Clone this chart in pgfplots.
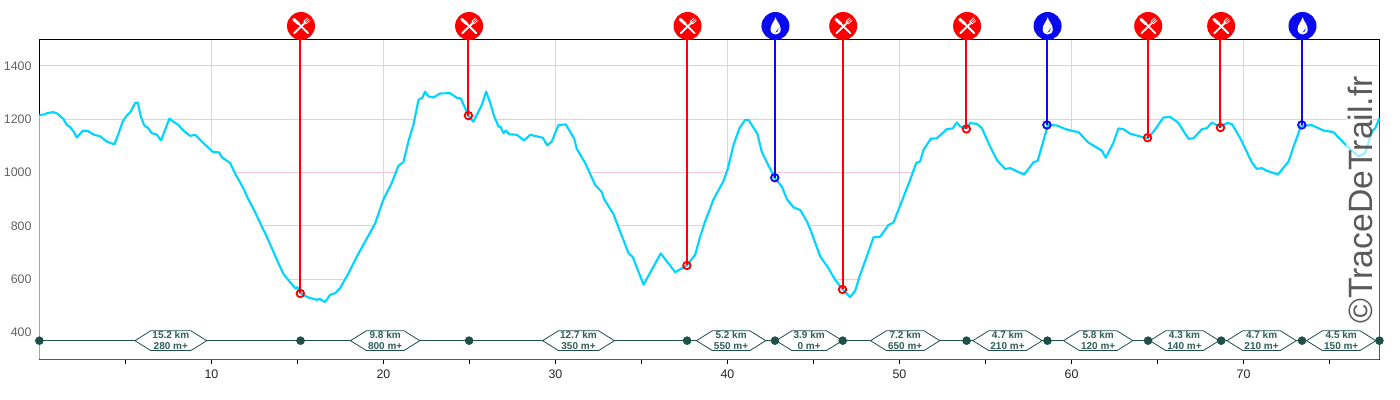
\documentclass[border=0pt]{standalone}
\usepackage{pgfplots}
\pgfplotsset{compat=1.18}
\usepackage{fontspec}
\setmainfont{Liberation Sans}
\usetikzlibrary{shapes.symbols}
\definecolor{prof}{HTML}{00D5FF}
\definecolor{seg}{HTML}{1F4F4A}
\definecolor{segt}{HTML}{2F5F5A}
\definecolor{pinkg}{HTML}{F7C5DA}
\definecolor{grayg}{HTML}{D8D8D8}
\definecolor{rd}{HTML}{FF0000}
\definecolor{bl}{HTML}{0A0AF0}
\pgfdeclareplotmark{food}{%
  \pgfsetfillcolor{rd}\pgfsetstrokecolor{rd}%
  \pgfpathcircle{\pgfpoint{0.5pt}{0pt}}{10.5pt}\pgfusepathqfill
  \pgfsetstrokecolor{white}\pgfsetfillcolor{white}%
  \pgfsetroundcap
  % knife
  \pgfsetlinewidth{2.2pt}%
  \pgfpathmoveto{\pgfpoint{-5.0pt}{5.0pt}}\pgfpathlineto{\pgfpoint{-1.2pt}{1.6pt}}\pgfusepathqstroke
  \pgfsetlinewidth{1.4pt}%
  \pgfpathmoveto{\pgfpoint{-1.2pt}{1.6pt}}\pgfpathlineto{\pgfpoint{5.8pt}{-5.4pt}}\pgfusepathqstroke
  % fork handle
  \pgfsetlinewidth{1.4pt}%
  \pgfpathmoveto{\pgfpoint{-4.6pt}{-5.4pt}}\pgfpathlineto{\pgfpoint{3.4pt}{2.4pt}}\pgfusepathqstroke
  % fork head
  \pgfsetlinewidth{0.8pt}%
  \pgfpathmoveto{\pgfpoint{2.7pt}{3.6pt}}\pgfpathlineto{\pgfpoint{4.4pt}{1.7pt}}\pgfusepathqstroke
  \pgfsetlinewidth{0.55pt}%
  \pgfpathmoveto{\pgfpoint{2.7pt}{3.6pt}}\pgfpathlineto{\pgfpoint{5.4pt}{6.0pt}}\pgfusepathqstroke
  \pgfpathmoveto{\pgfpoint{3.6pt}{2.6pt}}\pgfpathlineto{\pgfpoint{6.3pt}{5.0pt}}\pgfusepathqstroke
  \pgfpathmoveto{\pgfpoint{4.4pt}{1.7pt}}\pgfpathlineto{\pgfpoint{7.1pt}{4.0pt}}\pgfusepathqstroke
}
\pgfdeclareplotmark{water}{%
  \pgfsetfillcolor{bl}%
  \pgfpathcircle{\pgfpoint{0.5pt}{0pt}}{10.5pt}\pgfusepathqfill
  \pgfsetfillcolor{white}%
  \pgfpathmoveto{\pgfpoint{0.6pt}{6.6pt}}%
  \pgfpathcurveto{\pgfpoint{1.2pt}{3.6pt}}{\pgfpoint{4.4pt}{1.2pt}}{\pgfpoint{4.4pt}{-2.4pt}}%
  \pgfpathcurveto{\pgfpoint{4.4pt}{-5.0pt}}{\pgfpoint{2.6pt}{-6.4pt}}{\pgfpoint{0.6pt}{-6.4pt}}%
  \pgfpathcurveto{\pgfpoint{-1.4pt}{-6.4pt}}{\pgfpoint{-3.2pt}{-5.0pt}}{\pgfpoint{-3.2pt}{-2.4pt}}%
  \pgfpathcurveto{\pgfpoint{-3.2pt}{1.2pt}}{\pgfpoint{0pt}{3.6pt}}{\pgfpoint{0.6pt}{6.6pt}}%
  \pgfpathclose\pgfusepathqfill
  \pgfsetfillcolor{bl}%
  \pgfpathmoveto{\pgfpoint{2.9pt}{-1.6pt}}%
  \pgfpathcurveto{\pgfpoint{2.9pt}{-3.6pt}}{\pgfpoint{1.8pt}{-4.8pt}}{\pgfpoint{0.4pt}{-4.9pt}}%
  \pgfpathcurveto{\pgfpoint{1.4pt}{-4.0pt}}{\pgfpoint{2.0pt}{-3.0pt}}{\pgfpoint{2.9pt}{-1.6pt}}%
  \pgfpathclose\pgfusepathqfill
}
\pgfplotstableread{
km ele
0 1216
.33 1219
.43 1223
.81 1227
1.05 1221
1.4 1201
1.59 1179
1.78 1171
2.02 1152
2.17 1132
2.52 1157
2.79 1157
3.14 1143
3.53 1136
3.91 1117
4.36 1106
4.61 1148
4.84 1192
5.08 1214
5.31 1229
5.56 1261
5.72 1263
5.89 1211
6.09 1178
6.34 1166
6.53 1148
6.82 1143
7.07 1121
7.31 1161
7.56 1203
7.79 1191
8.08 1179
8.37 1158
8.76 1138
9.05 1142
9.53 1111
10.08 1078
10.45 1076
10.6 1058
11.09 1036
11.38 996
11.82 946
12.15 900
12.48 860
12.93 798
13.22 760
13.6 704
13.9 660
14.19 620
14.54 592
14.87 567
15.02 570
15.16 548
15.64 532
16.13 523
16.28 527
16.61 515
16.9 542
17.19 548
17.48 567
18.02 629
18.45 685
18.94 742
19.52 810
20.0 900
20.48 961
20.87 1026
21.16 1039
21.45 1117
21.74 1179
22.04 1273
22.27 1282
22.42 1304
22.62 1286
22.91 1282
23.3 1297
23.88 1298
24.26 1281
24.5 1278
24.94 1214
25.23 1191
25.43 1217
25.72 1254
25.97 1304
26.2 1263
26.44 1211
26.69 1173
26.82 1171
26.98 1148
27.11 1158
27.33 1144
27.75 1142
28.18 1121
28.53 1142
29.26 1131
29.53 1102
29.79 1117
30.17 1178
30.6 1181
31.08 1129
31.24 1089
31.73 1036
32.31 954
32.7 927
32.83 900
33.37 845
33.76 779
34.25 698
34.5 683
35.12 580
36.12 697
36.96 627
37.64 652
38.12 692
38.41 760
38.7 817
39.19 900
39.77 969
40.0 1011
40.35 1104
40.7 1167
41.03 1198
41.22 1198
41.74 1146
41.99 1079
42.38 1027
42.75 980
43.16 948
43.46 900
43.84 870
44.23 860
44.62 817
44.9 773
45.39 686
45.87 642
46.26 598
46.69 563
47.13 533
47.43 558
47.71 617
48.1 686
48.49 758
48.88 760
49.36 804
49.65 813
50.18 900
50.62 973
50.97 1036
51.2 1042
51.4 1086
51.82 1127
52.17 1129
52.75 1163
53.1 1166
53.33 1188
53.53 1173
53.87 1166
54.11 1186
54.5 1183
54.79 1167
55.27 1098
55.67 1046
56.14 1014
56.44 1017
56.72 1008
57.25 993
57.79 1039
58.03 1044
58.38 1123
58.63 1179
59.15 1177
59.63 1164
60.02 1157
60.41 1152
60.98 1113
61.76 1083
61.99 1056
62.44 1113
62.73 1166
63.02 1163
63.41 1146
64.09 1134
64.42 1129
64.77 1154
65.35 1207
65.74 1209
66.22 1186
66.8 1127
67.09 1129
67.58 1163
67.87 1167
68.16 1188
68.65 1171
69.03 1186
69.32 1183
69.81 1129
70.48 1039
70.77 1014
71.07 1017
71.36 1007
72.0 993
72.62 1042
72.91 1098
73.35 1176
73.97 1178
74.65 1158
75.23 1152
75.81 1113
76.68 1061
77.07 1073
77.46 1154
77.66 1167
77.9 1204
}\profile
\pgfplotstableread{
km ele
15.17 547
37.64 652
46.69 562
53.89 1164
64.42 1131
68.66 1169
24.94 1214
}\foodpts
\pgfplotstableread{
km ele
42.75 981
58.57 1179
73.39 1179
}\waterpts
\pgfplotstableread{
km ele
0 370
15.18 370
24.98 370
37.65 370
42.76 370
46.7 370
53.9 370
58.6 370
64.45 370
68.7 370
73.4 370
77.9 370
}\stations
\begin{document}
\begin{tikzpicture}
\path[use as bounding box] (-29.55pt,-30.5pt) rectangle (1020.45pt,269.5pt);
\begin{axis}[
  scale only axis, width=1005pt, height=240pt,
  xmin=0, xmax=77.9, ymin=300, ymax=1500,
  clip=false,
  axis line style={black,line width=0.75pt},
  xtick={10,20,...,70}, minor xtick={5,15,...,75},
  ytick={400,600,...,1400},
  tick align=outside, xtick pos=bottom, ytick pos=left,
  major tick length=3.4pt, minor tick length=3.4pt,
  xtick style={black,line width=0.5pt},
  minor x tick style={black,line width=0.5pt},
  ytick style={draw=none},
  xmajorgrids, ymajorgrids,
  x grid style={grayg,line width=0.75pt},
  y grid style={pinkg,line width=0.75pt},
  /pgf/number format/assume math mode=true,
  yticklabel style={font=\fontsize{9.3}{10}\selectfont, text=black!62, xshift=1pt},
  xticklabel style={font=\fontsize{9.3}{10}\selectfont, text=black!85, yshift=-1pt},
  y tick label style={/pgf/number format/1000 sep={}},
]
\addplot[fill=white,draw=none,forget plot] table[x=km,y=ele]{\profile} |- (axis cs:0,300) -- cycle;
\addplot[prof,line width=1.6pt,line join=round] table[x=km,y=ele]{\profile};
% aid station lines
\addplot[rd,line width=1.5pt] coordinates {(15.17,547)(15.17,1500)};
\addplot[rd,line width=1.5pt] coordinates {(24.94,1214)(24.94,1500)};
\addplot[rd,line width=1.5pt] coordinates {(37.64,652)(37.64,1500)};
\addplot[bl,line width=1.5pt] coordinates {(42.75,981)(42.75,1500)};
\addplot[rd,line width=1.5pt] coordinates {(46.69,562)(46.69,1500)};
\addplot[rd,line width=1.5pt] coordinates {(53.89,1164)(53.89,1500)};
\addplot[bl,line width=1.5pt] coordinates {(58.57,1179)(58.57,1500)};
\addplot[rd,line width=1.5pt] coordinates {(64.42,1131)(64.42,1500)};
\addplot[rd,line width=1.5pt] coordinates {(68.66,1169)(68.66,1500)};
\addplot[bl,line width=1.5pt] coordinates {(73.39,1179)(73.39,1500)};
\addplot[only marks,mark=o,mark size=2.8pt,mark options={draw=rd,line width=1.4pt,fill=none}] table[x=km,y=ele]{\foodpts};
\addplot[only marks,mark=o,mark size=2.8pt,mark options={draw=bl,line width=1.4pt,fill=none}] table[x=km,y=ele]{\waterpts};
% icons
\addplot[only marks,mark=food] coordinates {(15.17,1550)(24.94,1550)(37.64,1550)(46.69,1550)(53.89,1550)(64.42,1550)(68.66,1550)};
\addplot[only marks,mark=water] coordinates {(42.75,1550)(58.57,1550)(73.39,1550)};
% segments
\addplot[seg,line width=0.75pt] table[x=km,y=ele]{\stations};
\addplot[only marks,mark=none,
  nodes near coords,
  point meta=explicit symbolic,
  every node near coord/.style={anchor=center,shape=signal,signal to=east and west,
    signal pointer angle=64,draw=seg,line width=0.6pt,fill=white,
    inner xsep=1.3pt,inner ysep=0.5pt,align=center,text=segt,
    font=\fontsize{7.5}{8.3}\selectfont\bfseries},
] table[x=km,y=ele,meta=lab,col sep=comma] {
km,ele,lab
7.64,370,{15.2 km\\280 m+}
20.1,370,{9.8 km\\800 m+}
31.34,370,{12.7 km\\350 m+}
40.21,370,{5.2 km\\550 m+}
44.75,370,{3.9 km\\0 m+}
50.33,370,{7.2 km\\650 m+}
56.28,370,{4.7 km\\210 m+}
61.55,370,{5.8 km\\120 m+}
66.57,370,{4.3 km\\140 m+}
71.05,370,{4.7 km\\210 m+}
75.68,370,{4.5 km\\150 m+}
};
\node[rotate=90,anchor=south,text=black!68,text opacity=0.95,fill=white,fill opacity=0.6,
  font=\fontsize{25.3}{26}\selectfont,inner xsep=0pt,inner ysep=0pt,text depth=0pt,text height=20pt]
  at (axis cs:77.5,898) {©TraceDeTrail.fr};
\pgfplotsset{every axis plot/.append style={}}
\addplot[only marks,mark=*,mark size=3pt,mark options={fill=seg,draw=seg}] table[x=km,y=ele]{\stations};
\end{axis}
\end{tikzpicture}
\end{document}
